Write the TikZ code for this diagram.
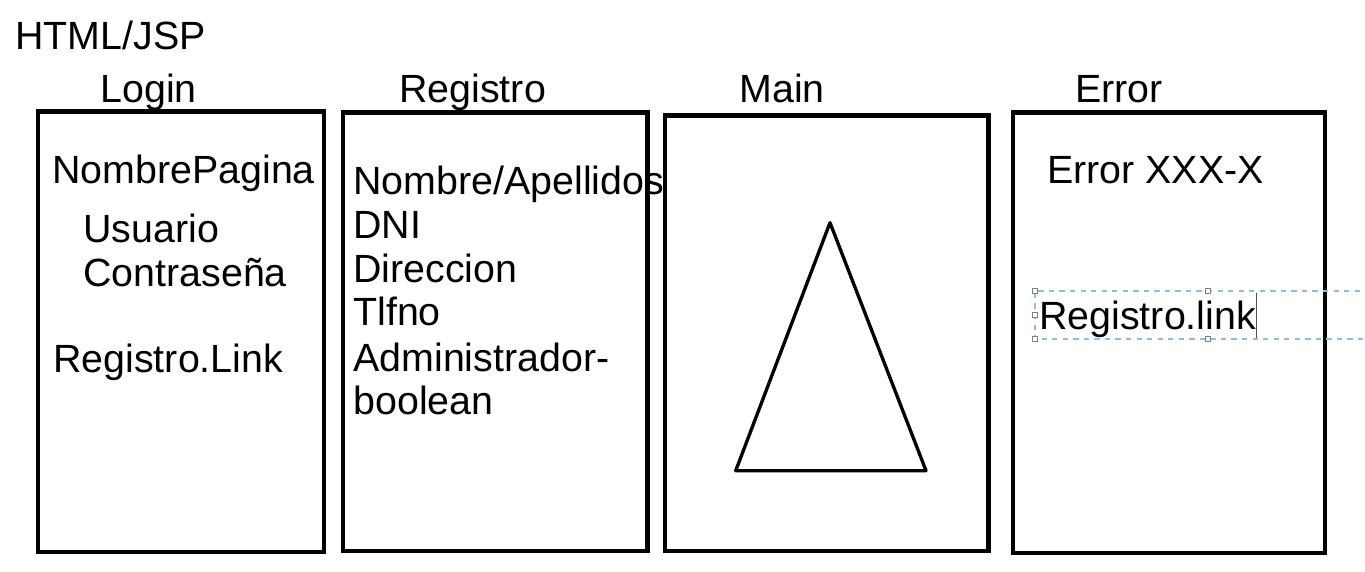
\documentclass[tikz,border=0pt]{standalone}
\usepackage{fontspec}
\setmainfont{Liberation Sans}
\tikzset{
  txt/.style={anchor=base west, inner sep=0pt, font=\fontsize{22.4}{26}\selectfont},
  pagina/.style={draw, line width=2.3pt, inner sep=0pt},
  asa/.style={draw=gray, fill=white, line width=0.4pt, minimum size=0.09cm, inner sep=0pt}
}
\definecolor{selblue}{RGB}{140,190,230}
\begin{document}
\begin{tikzpicture}
\useasboundingbox (0,0) rectangle (27.3,11.44);
\node[txt](H) at (0.30,10.44){HTML/JSP};

\node[txt](T1) at (2.00,9.38){Login};
\node[txt](T2) at (7.98,9.38){Registro};
\node[txt](T3) at (14.78,9.38){Main};
\node[txt](T4) at (21.50,9.38){Error};

\node[pagina, minimum width=5.72cm, minimum height=8.81cm](P1) at (3.62,4.805){};
\node[pagina, minimum width=6.09cm, minimum height=8.77cm](P2) at (9.905,4.805){};
\node[pagina, minimum width=6.47cm, minimum height=8.71cm](P3) at (16.535,4.775){};
\node[pagina, minimum width=6.24cm, minimum height=8.81cm](P4) at (23.38,4.785){};

\node[txt](L1) at (1.04,7.77){NombrePagina};
\node[txt](L2) at (1.66,6.59){Usuario};
\node[txt](L3) at (1.66,5.71){Contraseña};
\node[txt](L4) at (1.06,3.99){Registro.Link};

\node[txt](R1) at (7.06,7.54){Nombre/Apellidos};
\node[txt](R2) at (7.06,6.66){DNI};
\node[txt](R3) at (7.06,5.78){Direccion};
\node[txt](R4) at (7.06,4.92){Tlfno};
\node[txt](R5) at (7.06,4.00){Administrador-};
\node[txt](R6) at (7.06,3.14){boolean};

\draw[line width=1.9pt, line join=round](16.60,6.986)--(14.714,2.026)--(18.52,2.026)--cycle;

\node[txt](E1) at (20.94,7.76){Error XXX-X};
\node[txt](E2) at (20.78,4.84){Registro.link};

\draw[selblue, dashed, line width=0.6pt](27.62,5.62)--(20.70,5.62)--(20.70,4.66)--(27.62,4.66);
\node[asa](S1) at (20.70,5.62){};
\node[asa](S2) at (24.16,5.62){};
\node[asa](S3) at (20.70,5.14){};
\node[asa](S4) at (20.70,4.66){};
\node[asa](S5) at (24.16,4.66){};
\draw[line width=0.5pt, black!70](25.12,5.58)--(25.12,4.68);
\end{tikzpicture}
\end{document}
